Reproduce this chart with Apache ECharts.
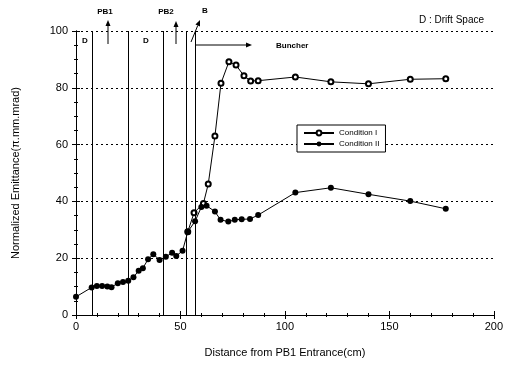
<!DOCTYPE html>
<html lang="en">
<head>
    <meta charset="UTF-8">
    <title>Emittance</title>
    <script src="https://cdn.jsdelivr.net/npm/echarts@6/dist/echarts.min.js"></script>
    <style>
        body { margin: 0; background: #fff; }
        #chart { width: 506px; height: 366px; }
    </style>
</head>
<body>
    <div id="chart"></div>
    <script>
        // shared part of both curves (before the split at ~53 cm)
        var shared_x = [0, 7.5, 10, 12.5, 15, 17, 20, 22.5, 25, 27.5, 30, 32, 34.5, 37, 40, 43, 46, 48, 51, 53.5];
        var shared_y = [6.4, 9.7, 10.2, 10.2, 10, 9.8, 11.2, 11.6, 12.1, 13.3, 15.6, 16.5, 19.6, 21.4, 19.4, 20.5, 21.9, 20.8, 22.6, 29.3];

        var cond1_x = [56.5, 61, 63.3, 66.5, 69.4, 73.2, 76.6, 80.4, 83.6, 87.2, 105, 122, 140, 160, 177];
        var cond1_y = [36, 39.3, 46.1, 63, 81.6, 89.2, 88, 84.2, 82.4, 82.5, 83.8, 82.1, 81.4, 83, 83.2];

        var cond2_x = [57, 60, 62.5, 66.5, 69.2, 72.9, 76, 79.3, 83.3, 87.2, 105, 122, 140, 160, 177];
        var cond2_y = [33, 38, 38.5, 36.4, 33.5, 32.9, 33.5, 33.7, 33.8, 35.2, 43.1, 44.8, 42.5, 40.1, 37.4];

        // region boundaries (cm)
        var region_x = [8, 25, 42, 53, 57];

        var font = 'Liberation Sans';

        function pairs (xs, ys) {
            var out = [];
            for (var i = 0; i < xs.length; i++) out.push([xs[i], ys[i]]);
            return out;
        }

        function arrow (x1, y1, x2, y2) {
            var a = Math.atan2(y2 - y1, x2 - x1);
            var len = 6, w = 2.5;
            var bx = x2 - len * Math.cos(a), by = y2 - len * Math.sin(a);
            return [{
                type: 'line',
                shape: { x1: x1, y1: y1, x2: bx, y2: by },
                style: { stroke: '#000', lineWidth: 1 }
            }, {
                type: 'polygon',
                shape: { points: [[x2, y2], [bx - w * Math.sin(a), by + w * Math.cos(a)], [bx + w * Math.sin(a), by - w * Math.cos(a)]] },
                style: { fill: '#000' }
            }];
        }

        function label (text, x, y, size, bold, align) {
            return {
                type: 'text', x: x, y: y,
                style: {
                    text: text, font: (bold ? 'bold ' : '') + size + 'px ' + font,
                    fill: '#000', align: align || 'center', verticalAlign: 'middle'
                }
            };
        }

        var graphics = [];
        graphics = graphics.concat(arrow(108, 44, 108, 20));
        graphics = graphics.concat(arrow(176, 44, 176, 21));
        graphics = graphics.concat(arrow(191, 42, 200, 20));
        graphics = graphics.concat(arrow(196, 45, 252, 45));
        graphics.push(label('PB1', 105, 12, 8, true));
        graphics.push(label('PB2', 166, 12, 8, true));
        graphics.push(label('B', 205, 11, 8, true));
        graphics.push(label('D', 85, 41, 8, true));
        graphics.push(label('D', 146, 41, 8, true));
        graphics.push(label('Buncher', 276, 46, 8, true, 'left'));
        graphics.push(label('D : Drift Space', 484, 20, 10, false, 'right'));

        var axisCommon = {
            min: 0,
            axisLine: { show: true, lineStyle: { color: '#000', width: 1 } },
            axisTick: { show: true, inside: true, length: 4, lineStyle: { color: '#000' } }
        };

        // Condition I branches off from the last shared point
        var last = shared_x.length - 1;

        var myChart = echarts.init(document.getElementById('chart'));
        var option = {
            animation: false,
            backgroundColor: '#fff',
            textStyle: { fontFamily: font },
            grid: { left: 76, right: 11, top: 31, bottom: 51 },
            legend: {
                left: 297, top: 125,
                orient: 'vertical',
                itemWidth: 30, itemHeight: 6, itemGap: 3,
                padding: [4, 6],
                borderColor: '#000', borderWidth: 1,
                backgroundColor: '#fff',
                textStyle: { fontSize: 8, color: '#000', fontFamily: font },
                data: ['Condition I', 'Condition II']
            },
            xAxis: [Object.assign({}, axisCommon, {
                type: 'value', max: 200, interval: 50,
                minorTick: { show: true, splitNumber: 5, length: 2, lineStyle: { color: '#000' } },
                axisLabel: { color: '#000', fontSize: 11, margin: 6 },
                splitLine: { show: false },
                name: 'Distance from PB1 Entrance(cm)',
                nameLocation: 'middle', nameGap: 32,
                nameTextStyle: { fontSize: 11, color: '#000' }
            }), Object.assign({}, axisCommon, {
                type: 'value', max: 200, interval: 50, position: 'top',
                minorTick: { show: true, splitNumber: 5, length: 2, lineStyle: { color: '#000' } },
                axisLabel: { show: false },
                splitLine: { show: false }
            })],
            yAxis: [Object.assign({}, axisCommon, {
                type: 'value', max: 100, interval: 20,
                minorTick: { show: true, splitNumber: 4, length: 2, lineStyle: { color: '#000' } },
                axisLabel: { color: '#000', fontSize: 11, margin: 8 },
                splitLine: { show: true, lineStyle: { color: '#000', type: [2, 3], width: 1 } },
                name: 'Normalized Emittance(\u03c0.mm.mrad)',
                nameLocation: 'middle', nameGap: 55,
                nameTextStyle: { fontSize: 11, color: '#000' }
            }), Object.assign({}, axisCommon, {
                type: 'value', max: 100, interval: 20, position: 'right',
                minorTick: { show: true, splitNumber: 4, length: 2, lineStyle: { color: '#000' } },
                axisLabel: { show: false },
                splitLine: { show: false }
            })],
            series: [{
                name: 'Condition I',
                type: 'line',
                data: pairs(shared_x.slice(last).concat(cond1_x), shared_y.slice(last).concat(cond1_y)),
                symbol: 'emptyCircle', symbolSize: 5, showAllSymbol: true,
                itemStyle: { color: '#000', borderWidth: 1.3 },
                lineStyle: { color: '#000', width: 1 }
            }, {
                name: 'Condition II',
                type: 'line',
                z: 3,
                data: pairs(shared_x.concat(cond2_x), shared_y.concat(cond2_y)),
                symbol: 'circle', symbolSize: 6, showAllSymbol: true,
                itemStyle: { color: '#000' },
                lineStyle: { color: '#000', width: 1 },
                markLine: {
                    silent: true, symbol: 'none',
                    label: { show: false },
                    lineStyle: { color: '#000', type: 'solid', width: 1 },
                    data: region_x.map(function (v) { return { xAxis: v }; })
                }
            }],
            graphic: graphics
        };
        myChart.setOption(option);
    </script>
</body>
</html>
